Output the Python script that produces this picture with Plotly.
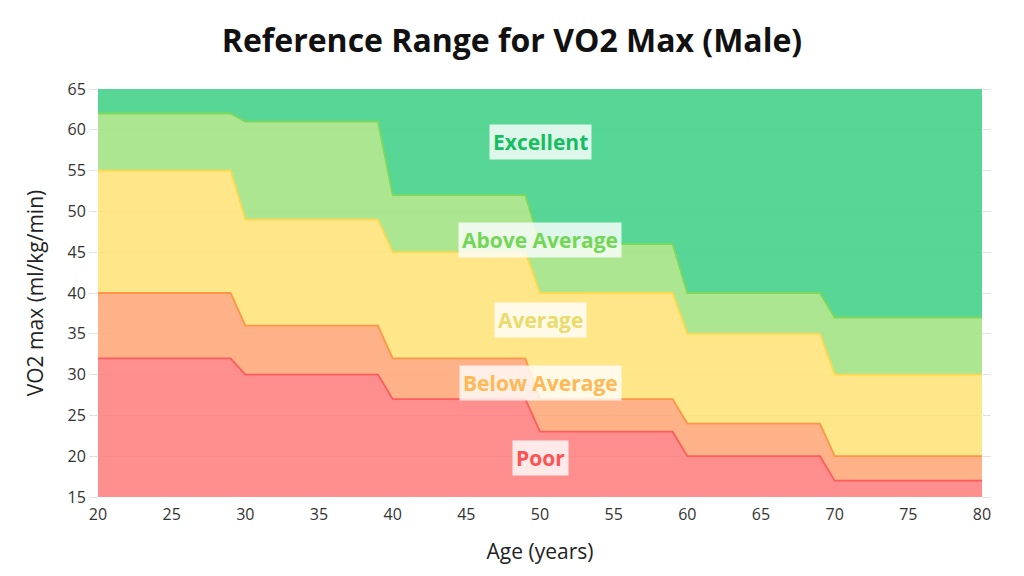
import plotly.graph_objects as go

ages = [20, 29, 30, 39, 40, 49, 50, 59, 60, 69, 70, 80]
poor_top = [32, 32, 30, 30, 27, 27, 23, 23, 20, 20, 17, 17]
below_avg_top = [40, 40, 36, 36, 32, 32, 27, 27, 24, 24, 20, 20]
average_top = [55, 55, 49, 49, 45, 45, 40, 40, 35, 35, 30, 30]
above_avg_top = [62, 62, 61, 61, 52, 52, 46, 46, 40, 40, 37, 37]
excellent_top = [65] * 12

band_names = ["Poor", "Below Average", "Average", "Above Average", "Excellent"]
band_values = [poor_top, below_avg_top, average_top, above_avg_top, excellent_top]
fill_colors = ["rgba(255,127,127,0.88)", "rgba(255,166,118,0.88)", "rgba(255,226,120,0.88)",
               "rgba(160,226,130,0.88)", "rgba(64,208,136,0.88)"]
line_colors = ["#FF5C5C", "#FF9548", "#FFD84C", "#7FD85A", "rgba(0,0,0,0)"]
label_colors = ["#FF5252", "#FFB856", "#EADB6A", "#74D656", "#16BE62"]
label_x = [50, 50, 50, 50, 50]
label_y = [19.8, 29.0, 36.7, 46.5, 58.5]

FONT = "Open Sans, sans-serif"

fig = go.Figure()
for i, (name, vals) in enumerate(zip(band_names, band_values)):
    fig.add_trace(go.Scatter(
        x=ages, y=vals, name=name, mode="lines",
        line=dict(color=line_colors[i], width=1.8 if i < 4 else 0),
        fill="tozeroy" if i == 0 else "tonexty",
        fillcolor=fill_colors[i],
        showlegend=False, hoverinfo="skip",
    ))

for name, x, y, c in zip(band_names, label_x, label_y, label_colors):
    fig.add_annotation(x=x, y=y, text=f"<b>{name}</b>", showarrow=False,
                       font=dict(family=FONT, size=21, color=c),
                       bgcolor="rgba(255,255,255,0.8)", borderpad=3)

fig.update_layout(
    width=1024, height=576,
    margin=dict(l=98, r=42, t=89, b=79),
    paper_bgcolor="white", plot_bgcolor="white",
    title=dict(text="<b>Reference Range for VO2 Max (Male)</b>", x=0.5, xanchor="center",
               y=0.93, yanchor="middle",
               font=dict(family=FONT, size=32, color="#111111")),
    font=dict(family=FONT, color="#333333"),
)
fig.update_xaxes(range=[20, 80], tickvals=list(range(20, 81, 5)), showgrid=False,
                 zeroline=False, showline=False, ticks="outside", ticklen=3, tickcolor="rgba(0,0,0,0)",
                 tickfont=dict(size=16, color="#333333"),
                 title=dict(text="Age (years)", font=dict(size=21, color="#222222"), standoff=20))
fig.update_yaxes(range=[15, 65], tickvals=list(range(15, 66, 5)), showgrid=True,
                 gridcolor="#E0E0E0", gridwidth=1, zeroline=False, showline=False,
                 ticks="outside", ticklen=8, tickcolor="#E0E0E0", mirror="ticks",
                 tickfont=dict(size=16, color="#333333"),
                 title=dict(text="VO2 max (ml/kg/min)", font=dict(size=21, color="#222222"), standoff=18))

fig.write_html("out.html")
